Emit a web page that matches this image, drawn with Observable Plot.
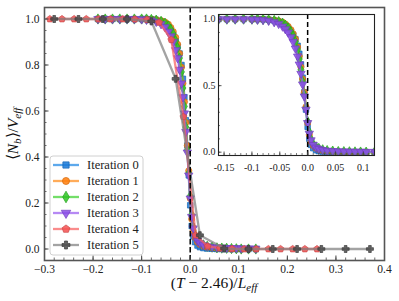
<!DOCTYPE html>
<html><head><meta charset="utf-8">
<script src="https://cdn.jsdelivr.net/npm/d3@7"></script>
<script src="https://cdn.jsdelivr.net/npm/@observablehq/plot@0.6"></script>
<style>
body{margin:0;background:#fff;}
#wrap{position:relative;width:399px;height:301px;font-family:'Liberation Serif',serif;}
#wrap svg{position:absolute;overflow:visible;}
#wrap svg text{font-family:'Liberation Serif',serif;}
</style></head><body><div id="wrap"></div>
<script>
// ---------- data ----------
const seriesNames = ["Iteration 0","Iteration 1","Iteration 2","Iteration 3","Iteration 4","Iteration 5"];
const seriesColors = ["#1e88e5","#ff8c1a","#3fd12f","#9a5cf0","#f8605f","#808080"];
const markerColors = ["#1a7ad8","#ff7f0e","#2fc425","#8a4de6","#f45454","#4a4a4a"];

const xFine = [-0.19,-0.175,-0.16,-0.145,-0.13,-0.115,-0.1,-0.09,-0.08,-0.07,-0.06,-0.052,-0.045,-0.04,-0.035,-0.03,-0.026,-0.022,-0.018,-0.015,-0.012,-0.009,-0.006,-0.003,0,0.003,0.006,0.01,0.015,0.02,0.027,0.035,0.045,0.055,0.065,0.075,0.085,0.095,0.105,0.12,0.135];
const yIter0 = [1,1,1,1,1,1,1,1,0.999,0.996,0.99,0.98,0.965,0.95,0.93,0.905,0.88,0.85,0.8,0.74,0.66,0.56,0.45,0.32,0.19,0.1,0.055,0.03,0.015,0.008,0.004,0.002,0.001,0,0,0,0,0,0,0,0];
const yIter1 = [1,1,1,1,1,1,1,1,0.999,0.997,0.993,0.987,0.977,0.963,0.945,0.92,0.89,0.85,0.79,0.72,0.64,0.55,0.45,0.34,0.22,0.13,0.08,0.05,0.03,0.02,0.012,0.008,0.005,0.003,0.002,0.001,0,0,0,0,0];
const yIter2 = [1,1,1,1,1,1,1,1,0.998,0.995,0.99,0.982,0.97,0.955,0.935,0.905,0.875,0.83,0.77,0.7,0.62,0.53,0.43,0.33,0.23,0.15,0.095,0.06,0.04,0.028,0.018,0.012,0.008,0.005,0.004,0.003,0.002,0.001,0,0,0];
const yIter3 = [1,1,1,1,1,1,0.999,0.997,0.994,0.988,0.978,0.965,0.945,0.925,0.9,0.865,0.83,0.78,0.72,0.66,0.59,0.51,0.42,0.32,0.22,0.14,0.09,0.055,0.035,0.025,0.017,0.012,0.009,0.007,0.006,0.005,0.004,0.004,0.003,0.003,0.002];

const xIter4 = [-0.289,-0.264,-0.239,-0.214,-0.189,-0.164,-0.139,-0.114,-0.089,-0.064,-0.039,-0.014,0.011,0.036,0.061,0.086,0.111,0.136,0.161,0.186,0.211,0.236,0.261];
const yIter4 = [1,1,1,1,1,1,1,0.999,0.997,0.985,0.91,0.575,0.06,0.012,0.004,0.001,0,0,0,0,0,0,0];

const xIter5 = [-0.28,-0.23,-0.18,-0.13,-0.08,-0.03,0.02,0.07,0.12,0.17,0.22,0.27,0.32,0.37];
const yIter5 = [1,1,1,1,0.99,0.74,0.06,0.002,0,0,0,0,0,0];

const mainXTicks = [-0.3,-0.2,-0.1,0,0.1,0.2,0.3,0.4];
const mainYTicks = [0,0.2,0.4,0.6,0.8,1.0];
const insetXTicks = [-0.15,-0.1,-0.05,0,0.05,0.1];
const insetXLabels = ["-0.15","-0.1","-0.05","0.0","0.05","0.1"];
const insetYTicks = [0,0.5,1];
const insetYLabels = ["0.0","0.5","1.0"];

const FONT = "'Liberation Serif',serif";

// ---------- symbols ----------
const triDown = {draw(c, size){const s=Math.sqrt(4*size/Math.sqrt(3)), h=s*Math.sqrt(3)/2;
  c.moveTo(-s/2,-h/3); c.lineTo(s/2,-h/3); c.lineTo(0,2*h/3); c.closePath();}};
const pentagon = {draw(c, size){const R=Math.sqrt(size/(2.5*Math.sin(2*Math.PI/5)));
  for(let k=0;k<5;k++){const a=-Math.PI/2+2*Math.PI*k/5; k?c.lineTo(R*Math.cos(a),R*Math.sin(a)):c.moveTo(R*Math.cos(a),R*Math.sin(a));} c.closePath();}};
const plusFilled = {draw(c, size){const a=Math.sqrt(size/2.46), b=a*0.38;
  const p=[[-b,-a],[b,-a],[b,-b],[a,-b],[a,b],[b,b],[b,a],[-b,a],[-b,b],[-a,b],[-a,-b],[-b,-b]];
  p.forEach((q,i)=>i?c.lineTo(q[0],q[1]):c.moveTo(q[0],q[1])); c.closePath();}};
const symbols = [d3.symbolSquare, d3.symbolCircle, d3.symbolDiamond, triDown, pentagon, plusFilled];

const seriesX = [xFine,xFine,xFine,xFine,xIter4,xIter5];
const seriesY = [yIter0,yIter1,yIter2,yIter3,yIter4,yIter5];
const seriesData = seriesY.map((ys,i)=>ys.map((y,j)=>({x:seriesX[i][j], y})));

const R = 3.1;
function dataMarks(idx, clip){
  const m=[];
  idx.forEach(i=>{
    m.push(Plot.line(seriesData[i],{x:"x",y:"y",stroke:seriesColors[i],strokeWidth:2.3,strokeOpacity:0.72,clip}));
    m.push(Plot.dot(seriesData[i],{x:"x",y:"y",symbol:symbols[i],r:R,fill:markerColors[i],fillOpacity:0.85,
      stroke:d3.color(markerColors[i]).darker(0.5).formatHex(),strokeWidth:0.7,clip}));
  });
  return m;
}

// ---------- main plot ----------
const W=399,H=301,mL=44,mR=15,mT=7,mB=41;
const iW=W-mL-mR, iH=H-mT-mB;
const xMinor=d3.range(-0.3,0.4001,0.02), yMinor=d3.range(0,1.0001,0.05);
const tickCol="#444";
const main = Plot.plot({
  width:W,height:H,marginLeft:mL,marginRight:mR,marginTop:mT,marginBottom:mB,
  x:{domain:[-0.3,0.4],label:null}, y:{domain:[-0.05,1.05],label:null},
  style:{fontFamily:FONT,fontSize:"11px",background:"transparent",overflow:"visible"},
  marks:[
    ...dataMarks([0,1,2,3,4,5], false),
    Plot.ruleX([0],{stroke:"#000",strokeWidth:1.5,strokeDasharray:"5.5,2.5"}),
    Plot.ruleX(xMinor,{stroke:tickCol,strokeWidth:0.8,insetTop:iH-2.5}),
    Plot.ruleX(mainXTicks,{stroke:tickCol,strokeWidth:1,insetTop:iH-4.5}),
    Plot.ruleY(yMinor,{stroke:tickCol,strokeWidth:0.8,insetRight:iW-2.5}),
    Plot.ruleY(mainYTicks,{stroke:tickCol,strokeWidth:1,insetRight:iW-4.5}),
    Plot.frame({stroke:"#555",strokeWidth:1.6}),
    Plot.axisX({ticks:mainXTicks,tickSize:0,tickPadding:4,tickFormat:d3.format(".1f"),fontSize:11.5,fontFamily:FONT,fill:"#222"}),
    Plot.axisY({ticks:mainYTicks,tickSize:0,tickPadding:5,tickFormat:d3.format(".1f"),fontSize:11.5,fontFamily:FONT,fill:"#222"})
  ]
});
main.setAttribute("font-family", FONT);
main.style.left="0px"; main.style.top="0px";
document.getElementById("wrap").appendChild(main);

// axis labels and legend
const svg = d3.select(main);
const xl = svg.append("text").attr("x",214).attr("y",288).attr("text-anchor","middle")
  .attr("font-family",FONT).attr("font-size",15.5).attr("fill","#111");
xl.append("tspan").text("(");
xl.append("tspan").attr("font-style","italic").text("T");
xl.append("tspan").text(" − 2.46)/");
xl.append("tspan").attr("font-style","italic").text("L");
xl.append("tspan").attr("font-style","italic").attr("font-size",11).attr("dy",3).text("eff");

const yl = svg.append("text").attr("transform","translate(18,134) rotate(-90)").attr("text-anchor","middle")
  .attr("font-family",FONT).attr("font-size",15.5).attr("fill","#111");
yl.append("tspan").text("⟨");
yl.append("tspan").attr("font-style","italic").text("N");
yl.append("tspan").attr("font-style","italic").attr("font-size",11).attr("dy",3).text("b");
yl.append("tspan").attr("dy",-3).text("⟩/");
yl.append("tspan").attr("font-style","italic").text("V");
yl.append("tspan").attr("font-style","italic").attr("font-size",11).attr("dy",3).text("eff");

const lg = svg.append("g");
lg.append("rect").attr("x",50).attr("y",156).attr("width",93).attr("height",99).attr("rx",3)
  .attr("fill","white").attr("fill-opacity",0.85).attr("stroke","#d0d0d0").attr("stroke-width",1);
seriesNames.forEach((name,i)=>{
  const y=165+16*i;
  lg.append("line").attr("x1",53).attr("x2",79).attr("y1",y).attr("y2",y)
    .attr("stroke",seriesColors[i]).attr("stroke-width",2.3).attr("stroke-opacity",0.72);
  lg.append("path").attr("d",d3.symbol(symbols[i],Math.PI*R*R*1.3)()).attr("transform",`translate(66,${y})`)
    .attr("fill",markerColors[i]).attr("fill-opacity",0.85)
    .attr("stroke",d3.color(markerColors[i]).darker(0.5).formatHex()).attr("stroke-width",0.7);
  lg.append("text").attr("x",87).attr("y",y+4).attr("text-anchor","start").attr("font-family",FONT)
    .attr("font-size",12.5).attr("fill","#222").text(name);
});

// ---------- inset ----------
const IW=180,IH=163,iL=22,iR=2,iT=2,iB=20;
const iiW=IW-iL-iR, iiH=IH-iT-iB;
const ixMinor=d3.range(-0.16,0.1201,0.01), iyMinor=d3.range(0,1.0001,0.1);
const inset = Plot.plot({
  width:IW,height:IH,marginLeft:iL,marginRight:iR,marginTop:iT,marginBottom:iB,
  x:{domain:[-0.16,0.12],label:null}, y:{domain:[-0.025,1.035],label:null},
  style:{fontFamily:FONT,fontSize:"10px",background:"transparent",overflow:"visible"},
  marks:[
    Plot.frame({fill:"white",stroke:null}),
    ...dataMarks([0,1,2,3], true),
    Plot.ruleX([0],{stroke:"#000",strokeWidth:1.5,strokeDasharray:"5,3"}),
    Plot.ruleX(ixMinor,{stroke:tickCol,strokeWidth:0.7,insetTop:iiH-2}),
    Plot.ruleX(insetXTicks,{stroke:tickCol,strokeWidth:0.9,insetTop:iiH-3.5}),
    Plot.ruleY(iyMinor,{stroke:tickCol,strokeWidth:0.7,insetRight:iiW-2}),
    Plot.ruleY(insetYTicks,{stroke:tickCol,strokeWidth:0.9,insetRight:iiW-3.5}),
    Plot.frame({stroke:"#222",strokeWidth:1.1}),
    Plot.axisX({ticks:insetXTicks,tickSize:0,tickPadding:8,tickFormat:(d,i)=>insetXLabels[i],fontSize:10,fontFamily:FONT,fill:"#222"}),
    Plot.axisY({ticks:insetYTicks,tickSize:0,tickPadding:3,tickFormat:(d,i)=>insetYLabels[i],fontSize:10,fontFamily:FONT,fill:"#222"})
  ]
});
inset.setAttribute("font-family", FONT);
inset.style.left="196px"; inset.style.top="12px";
document.getElementById("wrap").appendChild(inset);
</script></body></html>
